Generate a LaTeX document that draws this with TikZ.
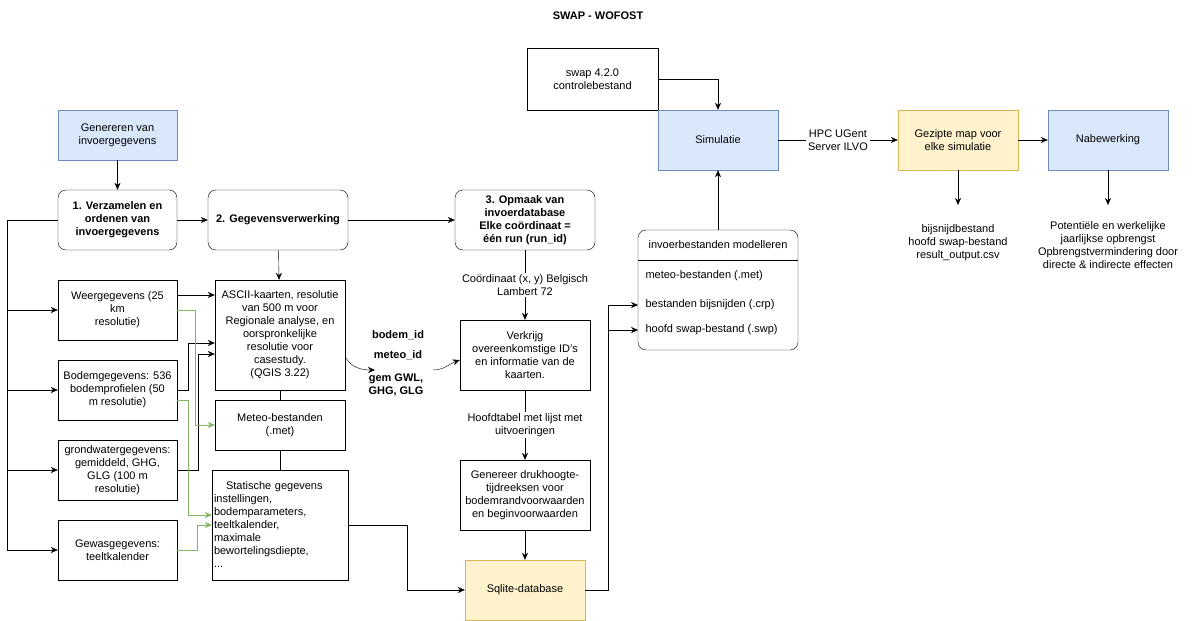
\documentclass[tikz,border=0pt]{standalone}
\usepackage{fontspec}
\setmainfont{Liberation Sans}
\usetikzlibrary{arrows.meta}
\definecolor{bf}{HTML}{DAE8FC}\definecolor{bs}{HTML}{6C8EBF}
\definecolor{yf}{HTML}{FFF2CC}\definecolor{ys}{HTML}{D6B656}
\definecolor{gr}{HTML}{82B366}
\begin{document}
\begin{tikzpicture}[x=1pt,y=-1pt,
  every node/.style={font=\fontsize{11}{13}\selectfont,align=center},
  box/.style={draw,inner sep=1pt},
  rbox/.style={box,rounded corners=8pt},
  blue/.style={box,fill=bf,draw=bs},
  yel/.style={box,fill=yf,draw=ys},
  arr/.style={-{Stealth[length=7pt,width=6pt]}},
  garr/.style={arr,draw=gr}]
\useasboundingbox (0,0) rectangle (1197,621);
\node[font=\fontsize{11}{13}\selectfont\bfseries] (title) at (598,16) {SWAP - WOFOST};
\node[blue,minimum width=119,minimum height=50] (gen) at (117.5,135) {Genereren van\\invoergegevens};
\node[rbox,minimum width=119,minimum height=60,font=\fontsize{11}{13}\selectfont\bfseries] (b1) at (117.5,220) {1. Verzamelen en\\ordenen van\\invoergegevens};
\node[rbox,minimum width=140,minimum height=60,font=\fontsize{11}{13}\selectfont\bfseries] (b2) at (278,220) {2. Gegevensverwerking};
\node[rbox,minimum width=140,minimum height=60,font=\fontsize{11}{13}\selectfont\bfseries] (b3) at (525,220) {3. Opmaak van\\invoerdatabase\\Elke coördinaat =\\één run (run\_id)};
\node[box,minimum width=131,minimum height=62] (ctl) at (592.5,79) {swap 4.2.0\\controlebestand};
\node[blue,minimum width=120,minimum height=60] (sim) at (718,140) {Simulatie};
\node[yel,minimum width=120,minimum height=60] (gez) at (958,140) {Gezipte map voor\\elke simulatie};
\node[blue,minimum width=120,minimum height=60] (nab) at (1108,140) {Nabewerking};
\node (outg) at (958,243) {bijsnijdbestand\\hoofd swap-bestand\\result\_output.csv};
\node (outn) at (1108,245) {Potentiële en werkelijke\\jaarlijkse opbrengst\\Opbrengstvermindering door\\directe \& indirecte effecten};
\node[box,minimum width=119,minimum height=60] (weer) at (117.5,310) {Weergegevens (25\\km\\resolutie)};
\node[box,minimum width=119,minimum height=60] (bod) at (117.5,390) {Bodemgegevens: 536\\bodemprofielen (50\\m resolutie)};
\node[box,minimum width=119,minimum height=60] (grw) at (117.5,470) {grondwatergegevens:\\gemiddeld, GHG,\\GLG (100 m\\resolutie)};
\node[box,minimum width=119,minimum height=60] (gew) at (117.5,550) {Gewasgegevens:\\teeltkalender};
\node[box,minimum width=130,minimum height=110] (asc) at (280,335) {ASCII-kaarten, resolutie\\van 500 m voor\\Regionale analyse, en\\oorspronkelijke\\resolutie voor\\casestudy.\\(QGIS 3.22)};
\node[box,minimum width=130,minimum height=50] (met) at (280,425) {Meteo-bestanden\\(.met)};
\node[box,minimum width=136,minimum height=110,align=left,text width=132] (stat) at (280,525) {\hspace*{12pt}Statische gegevens\\instellingen,\\bodemparameters,\\teeltkalender,\\maximale\\bewortelingsdiepte,\\...};
\node[font=\fontsize{11}{13}\selectfont\bfseries] (ids) at (398,335) {bodem\_id};
\node[font=\fontsize{11}{13}\selectfont\bfseries] (ids2) at (398,355) {meteo\_id};
\node[font=\fontsize{11}{13}\selectfont\bfseries] (ids3) at (396,385) {gem GWL,\\GHG, GLG};
\coordinate (ca) at (375,370);
\coordinate (cb) at (433,370);
\node[box,minimum width=130,minimum height=70] (ver) at (525,355) {Verkrijg\\overeenkomstige ID's\\en informatie van de\\kaarten.};
\node[box,minimum width=130,minimum height=70] (gnr) at (525,495) {Genereer drukhoogte-\\tijdreeksen voor\\bodemrandvoorwaarden\\en beginvoorwaarden};
\node[yel,minimum width=120,minimum height=60] (sql) at (525,590) {Sqlite-database};
\draw[rounded corners=8pt] (638,230) rectangle (798,350);
\draw (638,260) -- (798,260);
\node (inv) at (718,245) {invoerbestanden modelleren};
\node[anchor=west] (i1) at (642,276) {meteo-bestanden (.met)};
\node[anchor=west] (i2) at (642,305) {bestanden bijsnijden (.crp)};
\node[anchor=west] (i3) at (642,330) {hoofd swap-bestand (.swp)};
% edges
\draw[arr] (gen) -- (b1);
\draw[arr] (b1) -- (b2);
\draw[arr] (b2) -- (b3);
\draw[arr] (b2) -- (asc);
\draw[arr] (b1.west) -- (7,220) |- (weer.west);
\draw[arr] (7,300) |- (bod.west);
\draw[arr] (7,380) |- (grw.west);
\draw[arr] (7,460) |- (gew.west);
\draw[arr] (weer.east|-0,295) -- (asc.west|-0,295);
\draw[arr] (bod.east) -- (188,390) |- (asc.west|-0,343);
\draw[arr] (grw.east) -- (198,470) |- (asc.west|-0,354);
\draw[garr] (weer.east) -- (195,310) |- (met.west);
\draw[garr] (bod.east|-0,400) -- (188,400) |- (stat.west|-0,515);
\draw[garr] (gew.east) -- (197,550) |- (stat.west|-0,525);
\draw (asc) -- (met);
\draw (met) -- (stat);
\draw[arr] (stat.east|-0,525) -- (407,525) |- (sql.west);
\draw[arr] (asc.east|-0,357) to[out=-60,in=180] (ca);
\draw[arr] (cb) to[out=0,in=200] (ver.west|-0,360);
\draw[arr] (b3) -- node[fill=white,inner sep=1pt]{Coördinaat (x, y) Belgisch\\Lambert 72} (ver);
\draw[arr] (ver) -- node[fill=white,inner sep=1pt]{Hoofdtabel met lijst met\\uitvoeringen} (gnr);
\draw[arr] (gnr) -- (sql);
\draw[arr] (sql.east) -- (608,590) |- (638,305);
\draw[arr] (608,330) -- (638,330);
\draw[arr] (718,230) -- (sim);
\draw[arr] (ctl.east) -- (718,79) -- (sim.north);
\draw[arr] (sim) -- node[fill=white,inner sep=2pt]{HPC UGent\\Server ILVO} (gez);
\draw[arr] (gez) -- (nab);
\draw[arr] (gez.south) -- (958,205);
\draw[arr] (nab.south) -- (1108,205);
\end{tikzpicture}
\end{document}
